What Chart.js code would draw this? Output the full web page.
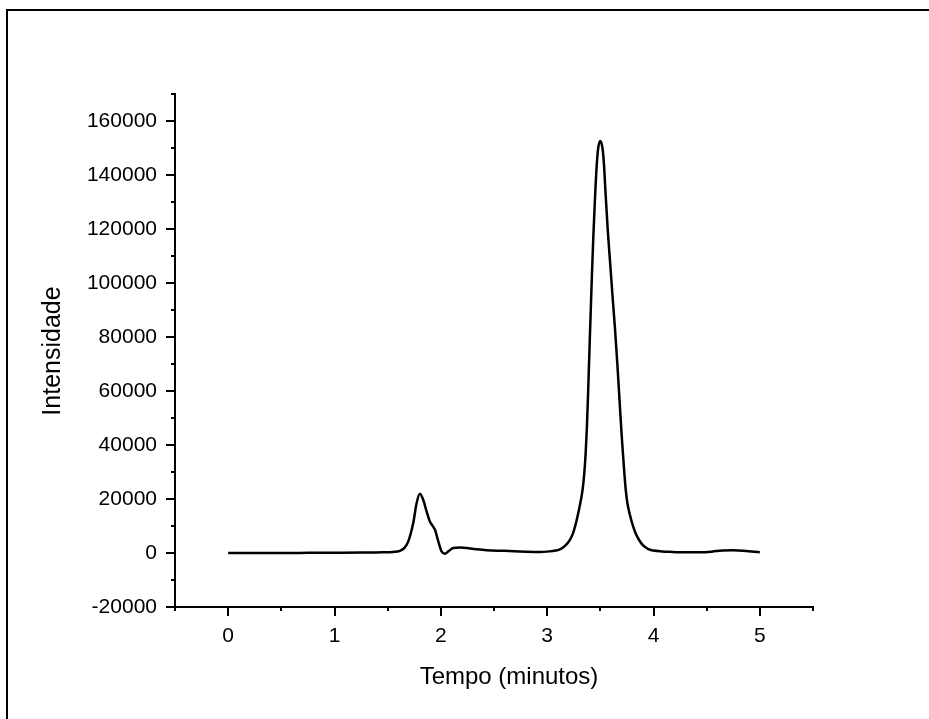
<!DOCTYPE html>
<html>
<head>
<meta charset="utf-8">
<script src="https://cdn.jsdelivr.net/npm/chart.js@4.4.0/dist/chart.umd.min.js"></script>
<style>
    html, body { margin: 0; padding: 0; background: #fff; }
    canvas { display: block; }
</style>
</head>
<body>
<canvas id="cromatograma" width="929" height="719"></canvas>
<script>
// valores (tempo em minutos, intensidade)
var tempo = [
    0, 0.25, 0.5, 0.75, 1.0, 1.25, 1.45, 1.55, 1.615, 1.66,
    1.694, 1.74, 1.772, 1.803, 1.834, 1.866, 1.897, 1.92, 1.945, 1.976,
    2.007, 2.039, 2.07, 2.117, 2.18, 2.243, 2.33, 2.43, 2.6, 2.8,
    2.93, 3.02, 3.08, 3.12, 3.17, 3.214, 3.24, 3.262, 3.28, 3.299,
    3.318, 3.335, 3.35, 3.362, 3.373, 3.383, 3.392, 3.40, 3.41, 3.421,
    3.435, 3.45, 3.465, 3.48, 3.50, 3.52, 3.535, 3.548, 3.57, 3.591,
    3.615, 3.638, 3.66, 3.68, 3.70, 3.716, 3.728, 3.741, 3.754, 3.769,
    3.79, 3.81, 3.835, 3.863, 3.90, 3.951, 4.0, 4.08, 4.15, 4.3,
    4.45, 4.55, 4.65, 4.75, 4.85, 5.0
]
var intensidade = [
    0, 0, 0, 50, 100, 150, 250, 400, 800, 2000,
    4300, 11000, 18400, 21900, 19700, 15400, 11700, 10200, 8600, 4300,
    600, -260, 600, 1850, 2000, 1850, 1400, 1000, 800, 500,
    400, 600, 900, 1300, 2700, 4900, 7000, 9800, 12600, 16000,
    19800, 24000, 30000, 37000, 46000, 57000, 68000, 78000, 90000, 103000,
    118000, 131600, 143000, 150000, 152600, 150000, 143500, 134000, 119500, 108000,
    95000, 83000, 70000, 57000, 44000, 35000, 28500, 22600, 18600, 15600,
    12300, 9700, 7000, 4900, 2900, 1400, 900, 600, 450, 250,
    250, 500, 950, 1000, 800, 250
]

var eixo_x = { min: -0.5, max: 5.5, passo: 0.5, rotulo_cada: 1 }
var eixo_y = { min: -20000, max: 170000, passo: 10000, rotulo_cada: 20000 }

var titulo_x = 'Tempo (minutos)'
var titulo_y = 'Intensidade'

var fonte = '"Liberation Sans", Arial, sans-serif'

function monta_pontos(){
    var pts = []
    for(let i = 0; i < tempo.length; i++){
        pts.push({x: tempo[i], y: intensidade[i]})
    }
    return pts
}

// moldura, marcas dos eixos e titulos
const extras = {
    id: 'extras',
    beforeDraw(chart){
        const ctx = chart.ctx
        ctx.save()
        ctx.fillStyle = '#fff'
        ctx.fillRect(0, 0, chart.width, chart.height)
        ctx.restore()
    },
    afterDraw(chart){
        const ctx = chart.ctx
        const sx = chart.scales.x
        const sy = chart.scales.y
        ctx.save()
        ctx.strokeStyle = '#000'
        ctx.lineWidth = 2
        ctx.strokeRect(7, 10, 1000, 1000)

        ctx.beginPath()
        sx.ticks.forEach(function(t){
            let p = Math.round(sx.getPixelForValue(t.value))
            let len = t.label !== '' ? 9 : 4
            ctx.moveTo(p, sx.top)
            ctx.lineTo(p, sx.top + len)
        })
        sy.ticks.forEach(function(t){
            let p = Math.round(sy.getPixelForValue(t.value))
            let len = t.label !== '' ? 9 : 4
            ctx.moveTo(sy.right, p)
            ctx.lineTo(sy.right - len, p)
        })
        ctx.stroke()

        ctx.fillStyle = '#000'
        ctx.textAlign = 'center'
        ctx.textBaseline = 'middle'
        ctx.font = '24px ' + fonte
        ctx.fillText(titulo_x, 509, 677)
        ctx.font = '25px ' + fonte
        ctx.translate(53, 351)
        ctx.rotate(-Math.PI / 2)
        ctx.fillText(titulo_y, 0, 0)
        ctx.restore()
    }
}

const ctx = document.getElementById('cromatograma').getContext('2d')
const grafico = new Chart(ctx, {
    type: 'line',
    data: {
        datasets: [{
            data: monta_pontos(),
            borderColor: '#000',
            borderWidth: 2.5,
            pointRadius: 0,
            cubicInterpolationMode: 'monotone',
            fill: false
        }]
    },
    options: {
        responsive: false,
        animation: false,
        devicePixelRatio: 1,
        layout: { padding: { top: 94, right: 116, left: 0, bottom: 0 } },
        plugins: {
            legend: { display: false },
            tooltip: { enabled: false }
        },
        scales: {
            x: {
                type: 'linear',
                min: eixo_x.min,
                max: eixo_x.max,
                afterFit: function(s){ s.height = 112 },
                grid: { display: true, drawOnChartArea: false, drawTicks: true, tickLength: 9, tickColor: 'rgba(0,0,0,0)' },
                border: { display: true, color: '#000', width: 2 },
                ticks: {
                    stepSize: eixo_x.passo,
                    autoSkip: false,
                    maxRotation: 0,
                    padding: 8,
                    color: '#000',
                    font: { family: fonte, size: 21 },
                    callback: function(v){
                        return Math.abs(v % eixo_x.rotulo_cada) < 1e-9 ? String(v) : ''
                    }
                }
            },
            y: {
                type: 'linear',
                min: eixo_y.min,
                max: eixo_y.max,
                afterFit: function(s){ s.width = 175 },
                grid: { display: true, drawOnChartArea: false, drawTicks: true, tickLength: 9, tickColor: 'rgba(0,0,0,0)' },
                border: { display: true, color: '#000', width: 2 },
                ticks: {
                    stepSize: eixo_y.passo,
                    autoSkip: false,
                    padding: 9,
                    color: '#000',
                    font: { family: fonte, size: 21 },
                    callback: function(v){
                        return v % eixo_y.rotulo_cada === 0 ? String(v) : ''
                    }
                }
            }
        }
    },
    plugins: [extras]
})
</script>
</body>
</html>
